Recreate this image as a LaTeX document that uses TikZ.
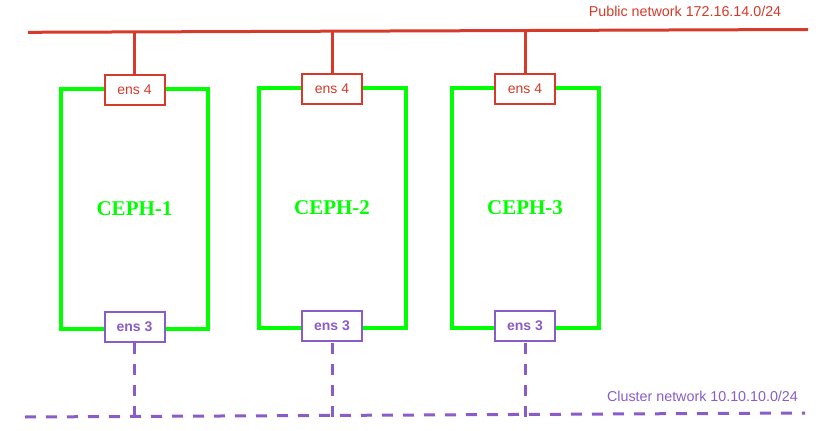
\documentclass[tikz,border=0pt]{standalone}
\usepackage{fontspec}
\setmainfont{Liberation Serif}
\setsansfont{Liberation Sans}
\usetikzlibrary{positioning}

\definecolor{pubred}{HTML}{D63A2A}
\definecolor{clupurple}{HTML}{8A5CC8}
\definecolor{srvgreen}{HTML}{00FF00}

\tikzset{
	server/.style={draw=srvgreen, line width=4pt, outer sep=0pt, minimum width=147pt, minimum height=240pt,
		text=srvgreen, font=\bfseries\fontsize{21}{24}\selectfont},
	pubport/.style={draw=pubred, fill=white, line width=2pt, minimum width=60pt, minimum height=30pt,
		inner sep=0pt, text=pubred, font=\sffamily\fontsize{14}{16}\selectfont},
	cluport/.style={pubport, draw=clupurple, text=clupurple, font=\sffamily\bfseries\fontsize{14}{16}\selectfont},
	publine/.style={draw=pubred, line width=3pt},
	clusline/.style={draw=clupurple, line width=3pt, dash pattern=on 11pt off 10pt},
	netlabel/.style={inner sep=0pt, font=\sffamily\fontsize{14.3}{16}\selectfont}
}

\begin{document}
\begin{tikzpicture}[x=1pt, y=-1pt]
	\useasboundingbox (0,0) rectangle (828,431);

	\coordinate (pubL) at (28,32.3);
	\coordinate (pubR) at (808,29.5);
	\coordinate (cluL) at (25,417);
	\coordinate (cluR) at (805,413);

	\draw
		[publine] (pubL) -- (pubR);

	\draw
		[clusline] (cluL) -- (cluR);

	\node (publabel) at (685,11) [netlabel, text=pubred] {Public network 172.16.14.0/24};

	\node (clulabel) at (702.5,396) [netlabel, text=clupurple] {Cluster network 10.10.10.0/24};

	\foreach \n/\x/\y in {1/134.5/208.5, 2/332/207.5, 3/525/207.5}
	{
		\node (ceph\n) at (\x,\y) [server] {CEPH-\n};
		\node (ensfour\n) at ([yshift=-1pt]ceph\n.north) [pubport] {ens 4};
		\node (ensthree\n) at ([yshift=1.5pt]ceph\n.south) [cluport] {ens 3};
		\draw
			[publine] (ensfour\n.north) -- (ensfour\n.north |- pubL);
		\draw
			[clusline] (ensthree\n.south |- cluL) -- (ensthree\n.south);
	}
\end{tikzpicture}
\end{document}
